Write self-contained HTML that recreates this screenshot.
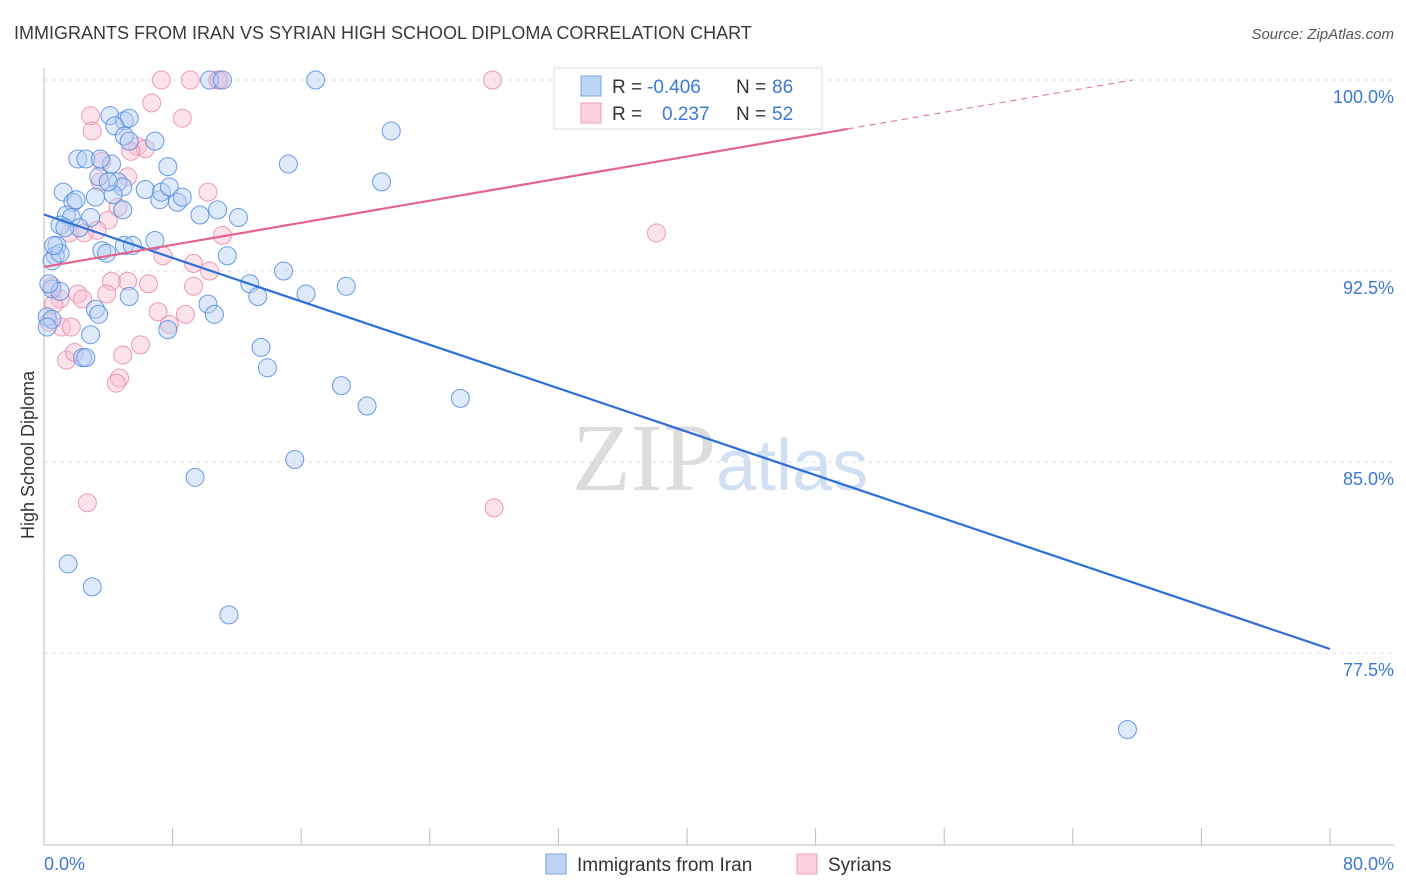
<!DOCTYPE html>
<html><head><meta charset="utf-8"><style>
body{margin:0;background:#fff;font-family:"Liberation Sans",sans-serif;}
svg{display:block}
</style></head><body>
<svg id="chart" width="1406" height="892">
<text x="14" y="39" font-size="18" fill="#3a3a3a">IMMIGRANTS FROM IRAN VS SYRIAN HIGH SCHOOL DIPLOMA CORRELATION CHART</text>
<text x="1394" y="39" font-size="15" fill="#555" font-style="italic" text-anchor="end">Source: ZipAtlas.com</text>
<text x="716" y="490" font-size="96" fill="#dcdcdc" text-anchor="end" font-family="Liberation Serif,serif">ZIP</text>
<text x="716" y="490" font-size="72" fill="#d0dff4">atlas</text>
<g id="grid"></g><g id="axes"></g><g id="marks"></g>
<text transform="translate(34,455) rotate(-90)" font-size="18" fill="#333" text-anchor="middle">High School Diploma</text>
<text x="44" y="870" font-size="18" fill="#3b78d8">0.0%</text>
<text x="1394" y="870" font-size="18" fill="#3b78d8" text-anchor="end">80.0%</text>
<g>
<rect x="554" y="68" width="268" height="61" fill="#fff" stroke="#ddd"/>
<rect x="581" y="76" width="20" height="20" fill="#bcd4f5" stroke="#7aa6e6"/>
<rect x="581" y="103" width="20" height="20" fill="#fbcfdc" stroke="#eda1b8"/>
<text y="93" font-size="19" fill="#333"><tspan x="612">R =</tspan><tspan x="647" fill="#3b78d8">-0.406</tspan><tspan x="736">N =</tspan><tspan x="772" fill="#3b78d8">86</tspan></text>
<text y="120" font-size="19" fill="#333"><tspan x="612">R =</tspan><tspan x="662" fill="#3b78d8">0.237</tspan><tspan x="736">N =</tspan><tspan x="772" fill="#3b78d8">52</tspan></text>
</g>
<g>
<rect x="546" y="854" width="20" height="20" fill="#bcd4f5" stroke="#7aa6e6"/>
<text x="577" y="871" font-size="19" fill="#333">Immigrants from Iran</text>
<rect x="797" y="854" width="20" height="20" fill="#fbcfdc" stroke="#eda1b8"/>
<text x="828" y="871" font-size="19" fill="#333">Syrians</text>
</g>
</svg>
<script>
const yTicks=[100,92.5,85,77.5];
const yTickLabels=["100.0%","92.5%","85.0%","77.5%"];
const xTicks=[0,8,16,24,32,40,48,56,64,72,80];
const iranX=[4.1,5.0,5.3,4.4,6.9,5.0,5.3,2.1,2.6,4.2,3.5,7.7,3.4,4.6,4.9,1.2,1.8,2.0,3.2,4.3,6.3,7.2,7.3,7.8,8.3,8.6,1.4,1.7,2.9,4.9,9.7,10.8,12.1,1.0,2.2,0.8,0.7,0.5,3.6,3.9,5.0,5.5,6.9,11.4,0.5,1.0,5.3,3.2,3.4,10.2,10.6,12.8,13.3,14.9,16.3,18.8,0.2,0.5,0.2,2.9,7.7,2.4,2.6,13.5,13.9,18.5,20.1,25.9,15.6,9.4,1.5,3.0,11.5,67.4,10.3,11.1,16.9,21.6,15.2,21.0,1.0,0.3,0.6,1.3,4.0];
const iranY=[98.6,98.4,98.5,98.2,97.6,97.8,97.6,96.9,96.9,96.7,96.9,96.6,96.2,96.0,95.8,95.6,95.2,95.3,95.4,95.5,95.7,95.3,95.6,95.8,95.2,95.4,94.7,94.6,94.6,94.9,94.7,94.9,94.6,94.3,94.2,93.5,93.1,92.9,93.3,93.2,93.5,93.5,93.7,93.1,91.8,91.7,91.5,91.0,90.8,91.2,90.8,92.0,91.5,92.5,91.6,91.9,90.7,90.6,90.3,90.0,90.2,89.1,89.1,89.5,88.7,88.0,87.2,87.5,85.1,84.4,81.0,80.1,79.0,74.5,100,100,100,98.0,96.7,96.0,93.2,92.0,93.5,94.2,96.0];
const syrX=[7.3,9.1,10.8,27.9,47.0,2.9,6.7,8.6,3.0,5.8,6.3,5.4,3.6,5.2,3.5,10.2,4.6,4.0,3.3,1.6,2.5,11.1,7.4,9.3,10.3,4.2,0.5,6.5,5.2,1.0,0.6,2.1,2.4,3.9,9.3,7.1,8.8,7.8,1.1,1.7,6.0,4.9,1.4,1.9,4.7,4.5,38.1,2.7,28.0,10.9,0.3];
const syrY=[100,100,100,100,100,98.6,99.1,98.5,98.0,97.4,97.3,97.2,96.8,96.2,96.0,95.6,95.0,94.5,94.1,94.0,94.0,93.9,93.1,92.8,92.5,92.1,91.9,92.0,92.1,91.4,91.2,91.6,91.4,91.6,91.9,90.9,90.8,90.4,90.3,90.3,89.6,89.2,89.0,89.3,88.3,88.1,94.0,83.4,83.2,100,90.5];
const iranTrend=[94.72,77.66];
const syrTrend=[92.66,98.08,100.0];
const X=v=>44+v*16.075, Y=v=>80+(100-v)*25.47;
const NS="http://www.w3.org/2000/svg";
function mk(t,a,p){const e=document.createElementNS(NS,t);for(const k in a)e.setAttribute(k,a[k]);p.appendChild(e);return e;}
const grid=document.getElementById('grid'),axes=document.getElementById('axes'),marks=document.getElementById('marks');
yTicks.forEach((t,i)=>{
 const l=mk('line',{x1:44,x2:1394,y1:Y(t),y2:Y(t),stroke:'#e2e2e2','stroke-dasharray':'4,4'},grid);
 
 
 const tx=mk('text',{x:1394,y:Y(t)+23,'font-size':18,fill:'#3b78d8','text-anchor':'end'},grid);
 tx.textContent=yTickLabels[i];
 
 
});
const ya=mk('line',{x1:44,x2:44,y1:68,y2:845,stroke:'#bbb'},axes);


const xa=mk('line',{x1:44,x2:1394,y1:845,y2:845,stroke:'#bbb'},axes);


xTicks.forEach(t=>{const l=mk('line',{x1:X(t),x2:X(t),y1:828,y2:845,stroke:'#bbb'},axes);
 
 });
function dot(x,y,r,fill,stroke,name){const c=mk('circle',{cx:X(x),cy:Y(y),r:r,fill:fill,'fill-opacity':0.45,stroke:stroke,'stroke-width':1,'stroke-opacity':0.85},marks);
 
 }
syrX.forEach((x,i)=>dot(x,syrY[i],(x<0.2)?16:9,'#f8bfd0','#e88aa8','syrian-point'));
iranX.forEach((x,i)=>dot(x,iranY[i],(x<0.3&&iranY[i]<88.5)?16:9,'#b6cff3','#4f8ae0','iran-point'));
const bl=mk('line',{x1:X(0),y1:Y(iranTrend[0]),x2:X(80),y2:Y(iranTrend[1]),stroke:'#2d6fd6','stroke-width':2.2},marks);


const pl=mk('line',{x1:X(0),y1:Y(syrTrend[0]),x2:X(50),y2:Y(syrTrend[1]),stroke:'#e4648d','stroke-width':2.2},marks);


const slope=(syrTrend[1]-syrTrend[0])/50, xe=(syrTrend[2]-syrTrend[0])/slope;
const pd=mk('line',{x1:X(50),y1:Y(syrTrend[1]),x2:X(xe),y2:Y(syrTrend[2]),stroke:'#e4648d','stroke-width':1,'stroke-dasharray':'6,5'},marks);


</script>
</body></html>
